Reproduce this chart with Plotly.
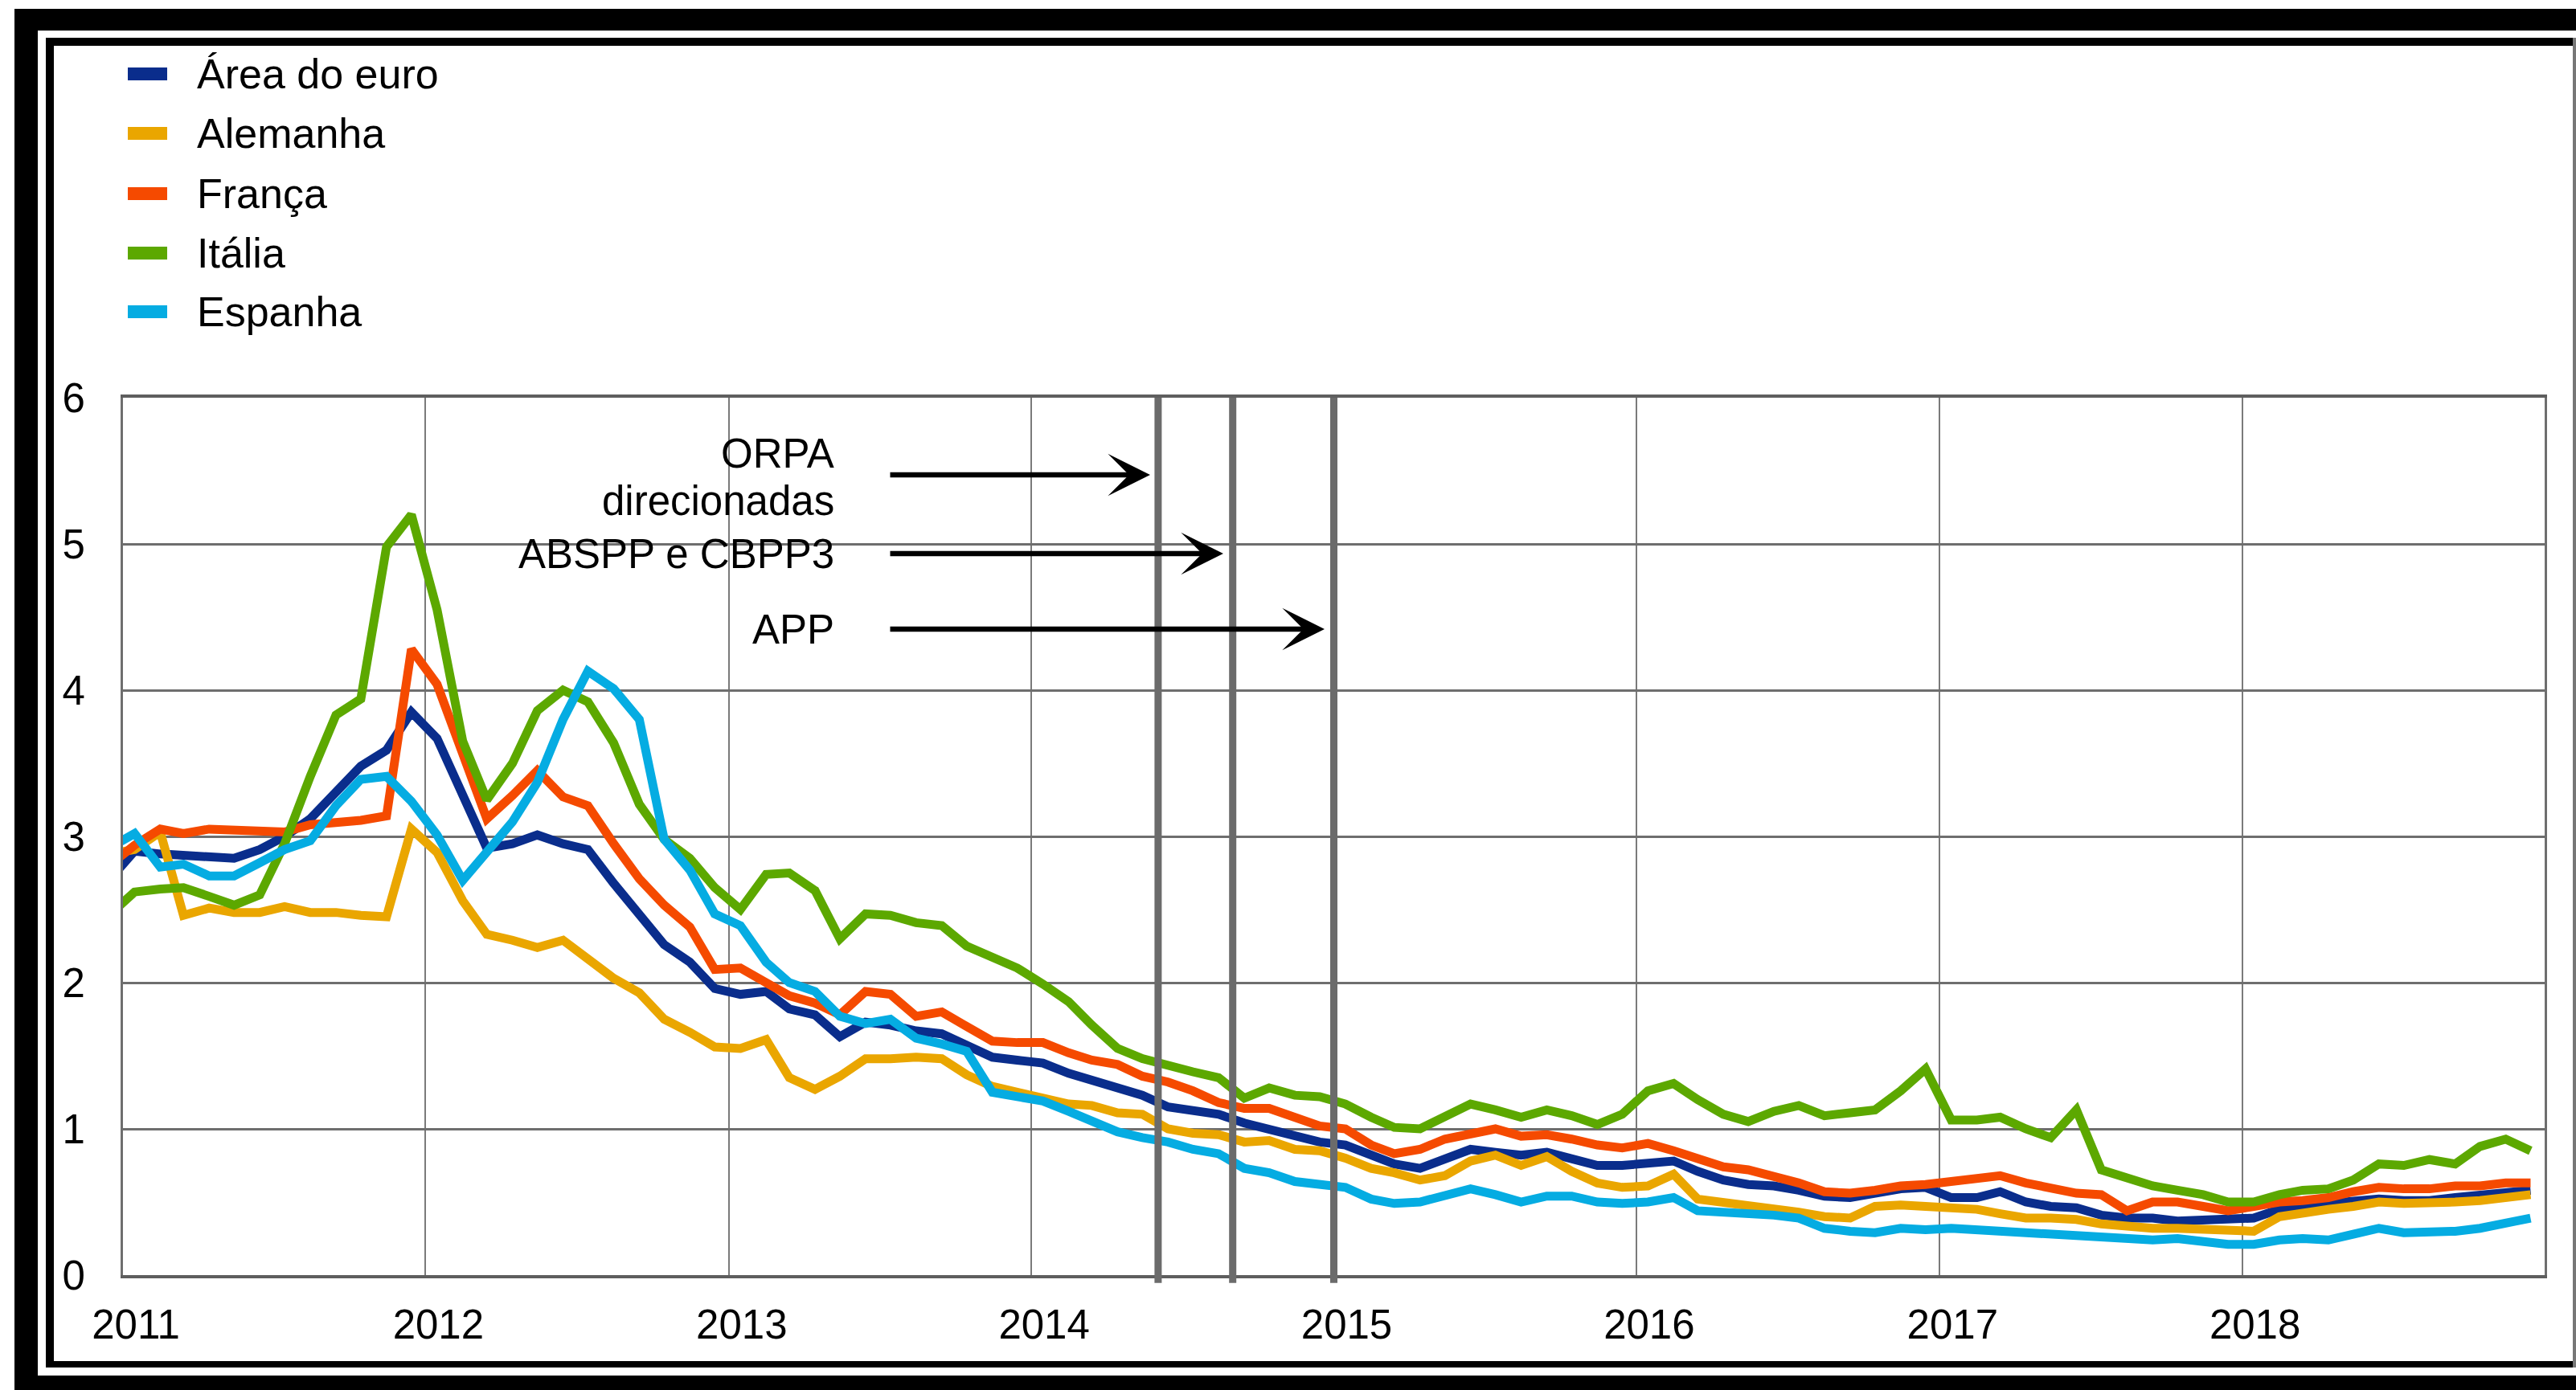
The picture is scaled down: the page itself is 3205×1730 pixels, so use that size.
import pandas as pd
import plotly.graph_objects as go

# monthly observations (mid-month), Dec 2010 .. Dec 2018
datas = pd.date_range("2010-12-01", "2018-12-01", freq="MS") + pd.Timedelta(days=14)

area_euro = [2.70,
    2.90, 2.88, 2.87, 2.86, 2.85, 2.91, 3.00, 3.12, 3.30, 3.48, 3.59, 3.85,
    3.67, 3.28, 2.92, 2.95, 3.01, 2.95, 2.91, 2.68, 2.47, 2.26, 2.14, 1.96,
    1.92, 1.94, 1.82, 1.78, 1.63, 1.73, 1.71, 1.67, 1.65, 1.57, 1.49, 1.47,
    1.45, 1.38, 1.33, 1.29, 1.23, 1.15, 1.12, 1.10, 1.04, 1.00, 0.96, 0.91,
    0.89, 0.82, 0.76, 0.73, 0.79, 0.86, 0.84, 0.82, 0.84, 0.80, 0.75, 0.75,
    0.77, 0.78, 0.71, 0.65, 0.62, 0.61, 0.58, 0.54, 0.53, 0.56, 0.59, 0.60,
    0.53, 0.53, 0.57, 0.50, 0.47, 0.46, 0.41, 0.39, 0.39, 0.37, 0.38, 0.38,
    0.39, 0.45, 0.46, 0.49, 0.50, 0.52, 0.51, 0.51, 0.53, 0.55, 0.57, 0.58]

alemanha = [2.88,
    2.91, 3.03, 2.46, 2.51, 2.48, 2.48, 2.52, 2.48, 2.48, 2.46, 2.45, 3.05,
    2.89, 2.56, 2.33, 2.29, 2.24, 2.29, 2.17, 2.03, 1.93, 1.75, 1.66, 1.56,
    1.55, 1.61, 1.35, 1.27, 1.36, 1.48, 1.48, 1.49, 1.48, 1.37, 1.29, 1.25,
    1.22, 1.17, 1.16, 1.11, 1.10, 1.00, 0.97, 0.96, 0.91, 0.92, 0.86, 0.85,
    0.80, 0.73, 0.70, 0.65, 0.68, 0.78, 0.82, 0.75, 0.81, 0.71, 0.63, 0.60,
    0.61, 0.69, 0.52, 0.50, 0.47, 0.46, 0.43, 0.40, 0.39, 0.47, 0.48, 0.47,
    0.46, 0.45, 0.42, 0.39, 0.39, 0.38, 0.35, 0.33, 0.32, 0.32, 0.31, 0.30,
    0.30, 0.40, 0.43, 0.45, 0.47, 0.50, 0.49, 0.49, 0.50, 0.51, 0.53, 0.55]

franca = [2.80,
    2.94, 3.05, 3.02, 3.05, 3.04, 3.04, 3.03, 3.08, 3.09, 3.11, 3.14, 4.28,
    4.04, 3.55, 3.12, 3.28, 3.45, 3.27, 3.21, 2.95, 2.71, 2.53, 2.38, 2.09,
    2.10, 2.00, 1.91, 1.86, 1.78, 1.94, 1.92, 1.77, 1.80, 1.70, 1.60, 1.59,
    1.59, 1.52, 1.47, 1.44, 1.36, 1.32, 1.26, 1.18, 1.14, 1.14, 1.08, 1.02,
    1.00, 0.89, 0.83, 0.86, 0.93, 0.97, 1.00, 0.95, 0.96, 0.93, 0.89, 0.87,
    0.90, 0.85, 0.80, 0.74, 0.72, 0.68, 0.63, 0.57, 0.56, 0.58, 0.61, 0.62,
    0.64, 0.65, 0.68, 0.63, 0.59, 0.56, 0.55, 0.44, 0.50, 0.50, 0.47, 0.44,
    0.47, 0.50, 0.51, 0.53, 0.57, 0.60, 0.59, 0.59, 0.61, 0.61, 0.63, 0.63]

italia = [2.46,
    2.62, 2.64, 2.65, 2.59, 2.53, 2.60, 2.95, 3.41, 3.83, 3.94, 4.98, 5.20,
    4.55, 3.65, 3.25, 3.50, 3.86, 4.00, 3.92, 3.64, 3.22, 2.98, 2.85, 2.65,
    2.50, 2.74, 2.75, 2.63, 2.30, 2.47, 2.46, 2.41, 2.39, 2.25, 2.17, 2.10,
    1.99, 1.87, 1.71, 1.55, 1.48, 1.43, 1.39, 1.35, 1.21, 1.28, 1.23, 1.22,
    1.17, 1.08, 1.01, 1.00, 1.09, 1.17, 1.13, 1.08, 1.13, 1.09, 1.03, 1.10,
    1.26, 1.31, 1.20, 1.10, 1.05, 1.12, 1.16, 1.09, 1.11, 1.13, 1.26, 1.41,
    1.06, 1.06, 1.08, 1.00, 0.94, 1.13, 0.72, 0.66, 0.61, 0.58, 0.55, 0.50,
    0.50, 0.55, 0.58, 0.59, 0.65, 0.76, 0.75, 0.79, 0.76, 0.88, 0.93, 0.85]

espanha = [2.92,
    3.02, 2.79, 2.81, 2.73, 2.73, 2.82, 2.91, 2.97, 3.21, 3.39, 3.41, 3.24,
    3.01, 2.70, 2.90, 3.10, 3.37, 3.80, 4.13, 4.01, 3.80, 2.98, 2.77, 2.47,
    2.39, 2.14, 2.00, 1.94, 1.77, 1.72, 1.75, 1.62, 1.58, 1.53, 1.25, 1.22,
    1.19, 1.12, 1.05, 0.98, 0.94, 0.91, 0.86, 0.83, 0.73, 0.70, 0.64, 0.62,
    0.60, 0.52, 0.49, 0.50, 0.54, 0.59, 0.55, 0.50, 0.54, 0.54, 0.50, 0.49,
    0.50, 0.53, 0.44, 0.43, 0.43, 0.41, 0.39, 0.32, 0.30, 0.29, 0.32, 0.31,
    0.32, 0.31, 0.30, 0.28, 0.27, 0.27, 0.25, 0.24, 0.24, 0.25, 0.23, 0.21,
    0.21, 0.24, 0.25, 0.24, 0.28, 0.32, 0.29, 0.29, 0.30, 0.32, 0.35, 0.39]

series_names = ["Área do euro", "Alemanha", "França", "Itália", "Espanha"]
series_values = [area_euro, alemanha, franca, italia, espanha]
colors = ["#0a2d8c", "#eaa600", "#f54a00", "#5ca800", "#05ace2"]

year_ticks = ["2011", "2012", "2013", "2014", "2015", "2016", "2017", "2018"]

# policy announcement dates (vertical lines)
eventos = ["2014-06-03", "2014-09-01", "2015-01-01"]

# layout in pixels
W, H = 3205, 1730
L, R, T, B = 153, 3166, 495, 1587
FONT = "Liberation Sans, Arial, sans-serif"


def px_x(p):
    return (p - L) / (R - L)


def px_y(p):
    return (B - p) / (B - T)


fig = go.Figure()
for name, vals, col in zip(series_names, series_values, colors):
    fig.add_trace(go.Scatter(x=datas, y=vals, mode="lines", name=name,
                             line=dict(color=col, width=11)))

shapes = []
# event lines
for d in eventos:
    shapes.append(dict(type="line", xref="x", yref="paper", x0=d, x1=d,
                       y0=-0.009, y1=1, line=dict(color="#6b6b6b", width=9),
                       layer="above"))


# double black frame
def rect(x0, y0, x1, y1, col="black"):
    return dict(type="rect", xref="paper", yref="paper",
                x0=px_x(x0), x1=px_x(x1), y0=px_y(y1), y1=px_y(y0),
                fillcolor=col, line=dict(width=0), layer="above")


shapes += [rect(18, 11, 3300, 38), rect(18, 11, 47, 1800), rect(18, 1712, 3300, 1800),
           rect(57, 47, 3300, 57), rect(57, 47, 67, 1702), rect(57, 1694, 3300, 1702),
           rect(3201, 47, 3205, 1702, "#777777")]

annotations = []
# legend (custom swatches)
leg_y = [92, 166, 241, 315, 388]
for name, col, cy in zip(series_names, colors, leg_y):
    shapes.append(dict(type="rect", xref="paper", yref="paper",
                       x0=px_x(159), x1=px_x(208), y0=px_y(cy + 8), y1=px_y(cy - 8),
                       fillcolor=col, line=dict(width=0)))
    annotations.append(dict(xref="paper", yref="paper", x=px_x(243), y=px_y(cy),
                            text=name, showarrow=False, xanchor="left", yanchor="middle",
                            font=dict(size=52, color="black", family=FONT)))

# event labels and arrows
text_rows = [[(564, "ORPA"), (623, "direcionadas")], [(689, "ABSPP e CBPP3")], [(783, "APP")]]
arrow_rows = [(591, 1431), (689, 1522), (783, 1648)]
for rows, (ay_px, tip) in zip(text_rows, arrow_rows):
    for ypx, txt in rows:
        annotations.append(dict(xref="paper", yref="paper", x=px_x(1040), y=px_y(ypx),
                                text=txt, showarrow=False, xanchor="right", yanchor="middle",
                                font=dict(size=51, color="black", family=FONT)))
    annotations.append(dict(xref="paper", yref="paper", x=px_x(tip), y=px_y(ay_px),
                            text="", showarrow=True, ax=-(tip - 1106), ay=0,
                            arrowhead=3, arrowsize=1.35, arrowwidth=6.5, arrowcolor="black"))

fig.update_layout(
    width=W, height=H,
    margin=dict(l=L, r=W - R, t=T, b=H - B),
    paper_bgcolor="white", plot_bgcolor="white",
    showlegend=False,
    font=dict(family=FONT, size=51, color="black"),
    shapes=shapes, annotations=annotations,
    xaxis=dict(type="date", range=["2011-01-01", "2019-01-01"],
               tickvals=[y + "-01-01" for y in year_ticks], ticktext=year_ticks,
               showgrid=True, gridcolor="#7a7a7a", gridwidth=2,
               showline=True, linecolor="#5e5e5e", linewidth=4, mirror=True,
               ticks="", ticklabelshift=16, ticklabelstandoff=14,
               tickfont=dict(size=51, color="black"), zeroline=False),
    yaxis=dict(range=[0, 6], tickvals=[0, 1, 2, 3, 4, 5, 6],
               showgrid=True, gridcolor="#6e6e6e", gridwidth=3,
               showline=True, linecolor="#6e6e6e", linewidth=3, mirror=True,
               ticks="", ticklabelstandoff=34,
               tickfont=dict(size=51, color="black"), zeroline=False),
)

fig.write_html("out.html", config={"displayModeBar": False},
               post_script="document.body.style.margin='0';")
